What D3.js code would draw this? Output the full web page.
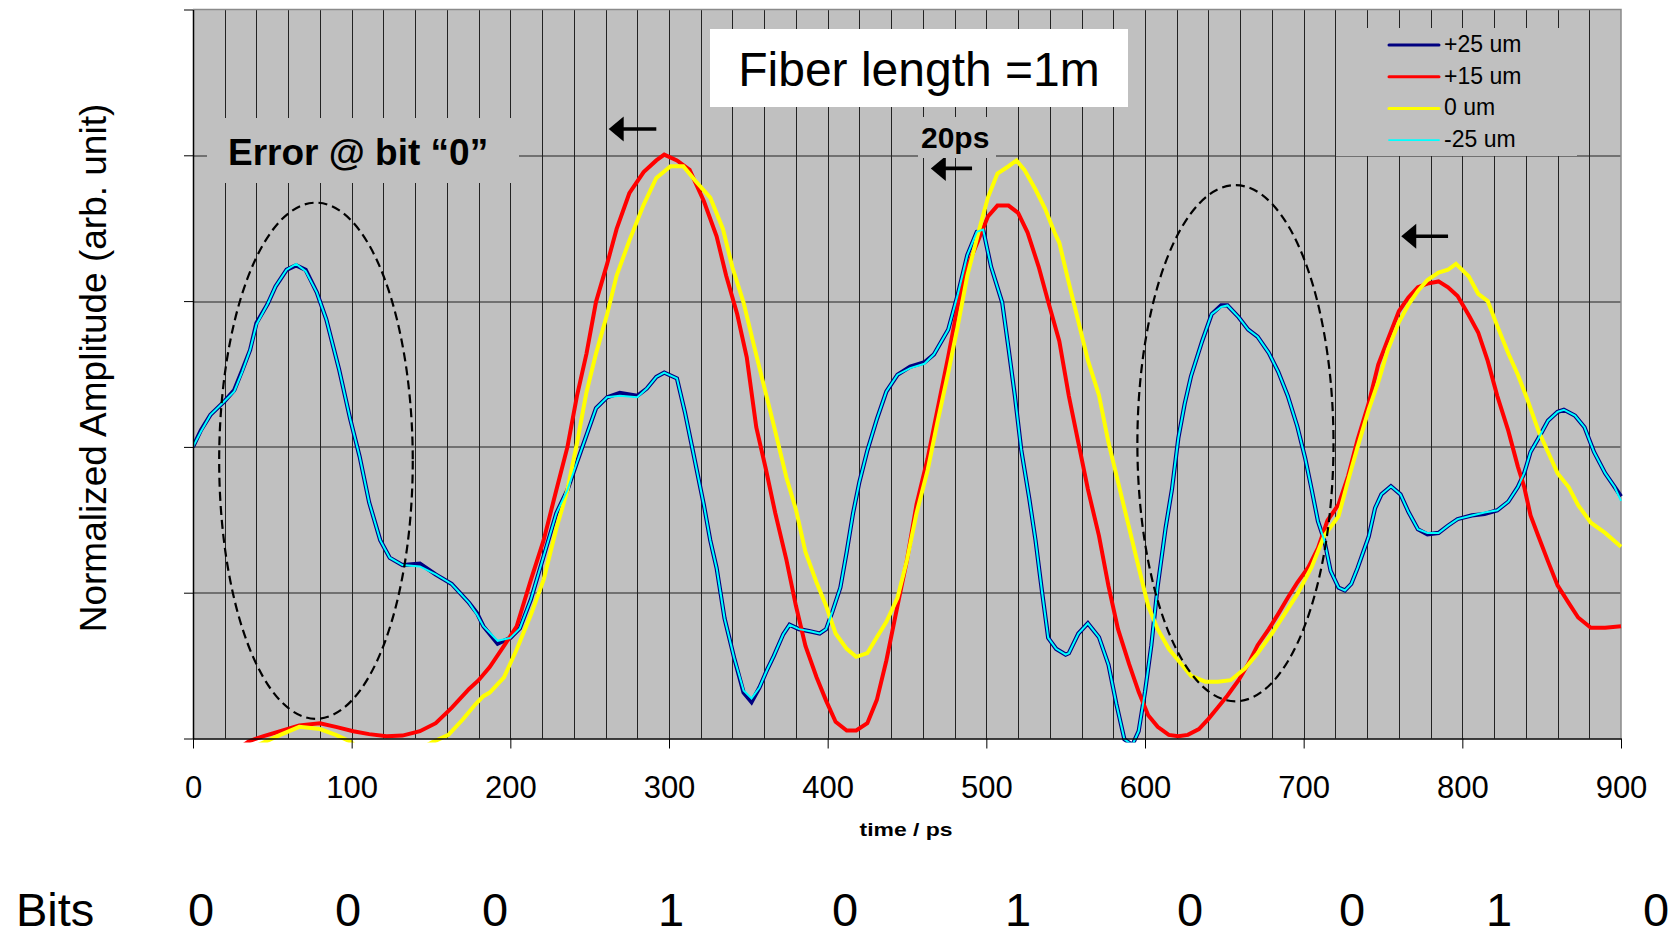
<!DOCTYPE html>
<html>
<head>
<meta charset="utf-8">
<script src="https://cdn.jsdelivr.net/npm/d3@7"></script>
<style>
  body { margin: 0; background: #fff; }
  svg { display: block; font-family: "Liberation Sans", Arial, sans-serif; }
</style>
</head>
<body>
<div id="chart"></div>
<script>
// values: [time (ps), normalized amplitude]
const plus25 = [[0,0.400],[5,0.423],[11,0.444],[20,0.463],[26,0.478],[31,0.505],[36,0.533],[40,0.570],[47,0.596],[52,0.620],[59,0.643],[65,0.649],[71,0.643],[78,0.612],[84,0.575],[92,0.507],[99,0.439],[105,0.387],[111,0.324],[118,0.272],[124,0.248],[132,0.238],[143,0.240],[153,0.225],[163,0.212],[174,0.186],[179,0.172],[183,0.154],[192,0.130],[200,0.138],[206,0.151],[213,0.191],[221,0.250],[229,0.309],[236,0.341],[242,0.379],[248,0.416],[254,0.453],[261,0.468],[269,0.474],[280,0.470],[286,0.480],[292,0.496],[297,0.502],[305,0.494],[310,0.448],[315,0.395],[322,0.320],[326,0.272],[330,0.234],[335,0.165],[341,0.111],[347,0.063],[352,0.050],[357,0.070],[362,0.095],[366,0.113],[372,0.143],[376,0.156],[382,0.150],[389,0.147],[395,0.144],[399,0.150],[403,0.174],[408,0.207],[412,0.256],[416,0.309],[420,0.352],[425,0.395],[431,0.438],[437,0.476],[444,0.499],[452,0.510],[461,0.516],[467,0.527],[476,0.561],[482,0.609],[488,0.663],[494,0.695],[498,0.698],[503,0.647],[510,0.598],[514,0.535],[518,0.470],[522,0.396],[527,0.330],[531,0.272],[535,0.203],[539,0.138],[544,0.123],[550,0.115],[552,0.117],[558,0.144],[564,0.158],[571,0.139],[577,0.101],[582,0.047],[587,-0.001],[592,-0.009],[596,0.010],[600,0.064],[604,0.128],[608,0.209],[613,0.289],[617,0.342],[621,0.412],[625,0.459],[629,0.497],[636,0.545],[642,0.582],[648,0.594],[652,0.594],[659,0.578],[665,0.561],[671,0.551],[678,0.529],[684,0.503],[690,0.470],[696,0.428],[701,0.384],[705,0.342],[709,0.298],[713,0.272],[717,0.230],[722,0.207],[726,0.203],[730,0.212],[734,0.234],[741,0.277],[745,0.316],[749,0.335],[755,0.346],[761,0.335],[766,0.311],[772,0.287],[778,0.280],[785,0.282],[791,0.292],[797,0.301],[806,0.306],[814,0.308],[822,0.313],[829,0.325],[835,0.345],[839,0.364],[843,0.393],[848,0.412],[854,0.436],[860,0.448],[864,0.451],[871,0.443],[877,0.427],[883,0.393],[890,0.364],[896,0.345],[900,0.332]];

const plus15 = [[30,-0.012],[35,-0.004],[44,0.003],[55,0.010],[67,0.018],[80,0.021],[90,0.016],[101,0.010],[111,0.006],[122,0.003],[132,0.004],[143,0.010],[153,0.021],[163,0.042],[174,0.068],[180,0.080],[187,0.098],[196,0.127],[204,0.154],[213,0.218],[221,0.272],[229,0.341],[236,0.400],[242,0.470],[248,0.528],[254,0.599],[261,0.651],[267,0.699],[275,0.748],[284,0.777],[292,0.793],[297,0.801],[305,0.793],[313,0.780],[322,0.737],[330,0.689],[336,0.635],[343,0.582],[349,0.523],[355,0.427],[361,0.370],[367,0.309],[374,0.245],[380,0.182],[386,0.127],[393,0.084],[399,0.052],[405,0.023],[412,0.011],[418,0.011],[425,0.021],[431,0.053],[437,0.107],[444,0.182],[450,0.245],[456,0.321],[463,0.384],[469,0.449],[476,0.524],[482,0.593],[488,0.647],[495,0.684],[501,0.716],[507,0.731],[514,0.731],[520,0.721],[526,0.694],[533,0.647],[539,0.599],[546,0.545],[552,0.470],[558,0.406],[564,0.342],[571,0.278],[577,0.209],[583,0.150],[590,0.102],[596,0.064],[602,0.032],[608,0.016],[615,0.005],[621,0.003],[627,0.005],[634,0.013],[640,0.027],[646,0.043],[652,0.059],[659,0.080],[665,0.102],[671,0.128],[678,0.150],[684,0.171],[690,0.193],[696,0.214],[703,0.235],[709,0.261],[715,0.299],[722,0.321],[728,0.360],[734,0.410],[741,0.460],[747,0.513],[753,0.547],[760,0.586],[766,0.605],[772,0.619],[778,0.624],[785,0.627],[791,0.619],[797,0.607],[804,0.581],[810,0.557],[816,0.518],[822,0.470],[829,0.422],[835,0.373],[839,0.345],[843,0.306],[848,0.277],[854,0.243],[860,0.210],[867,0.186],[873,0.166],[881,0.152],[890,0.152],[900,0.154]];

const zero = [[40,-0.010],[45,-0.005],[55,0.005],[67,0.016],[80,0.013],[90,0.005],[99,-0.004],[105,-0.015],[125,-0.025],[145,-0.012],[151,-0.005],[161,0.005],[170,0.026],[178,0.047],[183,0.058],[187,0.063],[196,0.084],[204,0.122],[213,0.170],[221,0.218],[229,0.288],[236,0.341],[242,0.405],[248,0.475],[254,0.528],[261,0.582],[267,0.635],[275,0.683],[284,0.732],[292,0.769],[301,0.785],[309,0.785],[317,0.764],[326,0.742],[334,0.699],[340,0.646],[347,0.598],[353,0.544],[359,0.491],[366,0.430],[374,0.358],[380,0.314],[386,0.256],[393,0.214],[399,0.182],[405,0.144],[412,0.123],[418,0.112],[425,0.117],[431,0.139],[437,0.160],[444,0.193],[450,0.245],[456,0.309],[463,0.368],[469,0.432],[476,0.502],[482,0.566],[488,0.635],[495,0.694],[501,0.742],[507,0.775],[514,0.785],[519,0.793],[524,0.780],[531,0.753],[537,0.727],[543,0.694],[546,0.680],[552,0.625],[558,0.572],[564,0.519],[571,0.471],[577,0.406],[583,0.352],[590,0.289],[596,0.235],[602,0.182],[608,0.150],[615,0.123],[621,0.107],[629,0.086],[638,0.078],[646,0.078],[654,0.080],[663,0.096],[671,0.117],[680,0.144],[688,0.171],[696,0.198],[705,0.235],[713,0.278],[722,0.305],[728,0.354],[734,0.400],[741,0.451],[747,0.489],[753,0.533],[760,0.571],[766,0.595],[772,0.614],[778,0.629],[785,0.639],[791,0.643],[796,0.651],[804,0.634],[810,0.610],[816,0.600],[822,0.566],[829,0.528],[835,0.499],[841,0.465],[848,0.422],[854,0.393],[860,0.364],[867,0.345],[873,0.320],[881,0.296],[890,0.282],[900,0.263]];

const minus25 = [[0,0.400],[5,0.421],[11,0.444],[20,0.463],[26,0.476],[31,0.503],[36,0.533],[40,0.568],[47,0.596],[52,0.620],[59,0.643],[65,0.651],[71,0.641],[78,0.612],[84,0.575],[92,0.507],[99,0.439],[105,0.387],[111,0.324],[118,0.272],[124,0.248],[132,0.238],[143,0.236],[153,0.225],[163,0.212],[174,0.186],[179,0.170],[183,0.154],[192,0.134],[200,0.138],[206,0.151],[213,0.191],[221,0.250],[229,0.309],[236,0.341],[242,0.379],[248,0.416],[254,0.453],[261,0.468],[269,0.470],[280,0.468],[286,0.480],[292,0.496],[297,0.502],[305,0.494],[310,0.448],[315,0.395],[322,0.320],[326,0.272],[330,0.234],[335,0.165],[341,0.111],[347,0.066],[352,0.055],[357,0.070],[362,0.095],[366,0.113],[372,0.143],[376,0.156],[382,0.150],[389,0.147],[395,0.144],[399,0.150],[403,0.174],[408,0.207],[412,0.256],[416,0.309],[420,0.352],[425,0.395],[431,0.438],[437,0.476],[444,0.499],[452,0.508],[461,0.514],[467,0.527],[476,0.561],[482,0.609],[488,0.663],[494,0.695],[498,0.698],[503,0.647],[510,0.598],[514,0.535],[518,0.470],[522,0.396],[527,0.330],[531,0.272],[535,0.203],[539,0.138],[544,0.123],[550,0.115],[552,0.117],[558,0.144],[564,0.158],[571,0.139],[577,0.101],[582,0.047],[587,-0.001],[592,-0.009],[596,0.010],[600,0.064],[604,0.128],[608,0.209],[613,0.289],[617,0.342],[621,0.412],[625,0.459],[629,0.497],[636,0.545],[642,0.582],[648,0.592],[652,0.594],[659,0.578],[665,0.561],[671,0.551],[678,0.529],[684,0.503],[690,0.470],[696,0.428],[701,0.384],[705,0.342],[709,0.298],[713,0.272],[717,0.230],[722,0.207],[726,0.203],[730,0.212],[734,0.234],[741,0.277],[745,0.316],[749,0.335],[755,0.346],[761,0.335],[766,0.311],[772,0.287],[778,0.282],[785,0.282],[791,0.292],[797,0.301],[806,0.306],[814,0.310],[822,0.313],[829,0.325],[835,0.345],[839,0.364],[843,0.393],[848,0.412],[854,0.436],[860,0.448],[864,0.451],[871,0.443],[877,0.427],[883,0.393],[890,0.364],[896,0.345],[900,0.326]];

const seriesNames = ["+25 um", "+15 um", "0 um", "-25 um"];
const seriesColors = ["#000080", "#ff0000", "#ffff00", "#00ffff"];
const timeTicks = [0, 100, 200, 300, 400, 500, 600, 700, 800, 900];
const bits = ["0", "0", "0", "1", "0", "1", "0", "0", "1", "0"];

// chart frame
const margin = { top: 9.5, right: 57, bottom: 199.5, left: 193 };
const W = 1678, H = 938;
const width = W - margin.left - margin.right;
const height = H - margin.top - margin.bottom;

const svg = d3.select('#chart').append('svg')
  .attr('width', W)
  .attr('height', H);

const g = svg.append('g')
  .attr('transform', `translate(${margin.left},${margin.top})`);

const x = d3.scaleLinear().domain([0, 900]).range([0, width]);
const y = d3.scaleLinear().domain([0, 1]).range([height, 0]);
const crisp = v => Math.round(v) + 0.5;

// plot background
g.append('rect')
  .attr('width', width)
  .attr('height', height)
  .attr('fill', '#c0c0c0');

// grid: every 20 ps and every 0.2
g.append('g').selectAll('line')
  .data(d3.range(20, 900, 20))
  .enter().append('line')
  .attr('x1', d => crisp(x(d))).attr('x2', d => crisp(x(d)))
  .attr('y1', 0).attr('y2', height)
  .attr('stroke', '#222').attr('stroke-width', 1);

g.append('g').selectAll('line')
  .data([0.2, 0.4, 0.6, 0.8])
  .enter().append('line')
  .attr('x1', 0).attr('x2', width)
  .attr('y1', d => crisp(y(d))).attr('y2', d => crisp(y(d)))
  .attr('stroke', '#222').attr('stroke-width', 1);

// top / right border
g.append('path')
  .attr('d', `M0,0H${width}V${height}`)
  .attr('fill', 'none')
  .attr('stroke', '#8a8a8a')
  .attr('stroke-width', 1.5);

// boxes sitting on the grid (cover the grid lines)
svg.append('rect').attr('x', 207).attr('y', 118).attr('width', 312).attr('height', 65).attr('fill', '#c0c0c0');
svg.append('rect').attr('x', 918).attr('y', 117).attr('width', 78).attr('height', 41).attr('fill', '#c0c0c0');
svg.append('rect').attr('x', 1336).attr('y', 28).attr('width', 241).attr('height', 128).attr('fill', '#c0c0c0');
svg.append('rect').attr('x', 710).attr('y', 29).attr('width', 418).attr('height', 78).attr('fill', '#ffffff');

// traces
svg.append('defs').append('clipPath').attr('id', 'plotClip')
  .append('rect').attr('x', 0).attr('y', -2).attr('width', width + 2).attr('height', height + 6);

const line = d3.line().x(d => x(d[0])).y(d => y(d[1]));
const traces = [
  { data: plus25, color: seriesColors[0], w: 4.2 },
  { data: plus15, color: seriesColors[1], w: 4 },
  { data: zero, color: seriesColors[2], w: 4 },
  { data: minus25, color: seriesColors[3], w: 2 }
];
const traceG = g.append('g').attr('clip-path', 'url(#plotClip)');
traces.forEach(t => {
  traceG.append('path')
    .datum(t.data)
    .attr('d', line)
    .attr('fill', 'none')
    .attr('stroke', t.color)
    .attr('stroke-width', t.w)
    .attr('stroke-linejoin', 'miter');
});

// dashed ellipses around the error bits
const rings = [
  { t: 77.5, a: 0.381, rt: 61, ra: 0.354 },
  { t: 657, a: 0.405, rt: 61.8, ra: 0.354 }
];
g.selectAll('.ring')
  .data(rings)
  .enter().append('ellipse')
  .attr('cx', d => x(d.t))
  .attr('cy', d => y(d.a))
  .attr('rx', d => x(d.rt) - x(0))
  .attr('ry', d => y(0) - y(d.ra))
  .attr('fill', 'none')
  .attr('stroke', '#000')
  .attr('stroke-width', 2.2)
  .attr('stroke-dasharray', '9,5');

// axes
const xAxis = g.append('g')
  .attr('transform', `translate(0,${height})`)
  .call(d3.axisBottom(x).tickValues(timeTicks).tickSize(10).tickPadding(27).tickSizeOuter(0));
xAxis.select('.domain').attr('stroke', '#000').attr('stroke-width', 1.5);
xAxis.selectAll('.tick line').attr('stroke', '#000');
xAxis.selectAll('.tick text')
  .attr('fill', '#000')
  .style('font-size', '31px')
  .style('font-family', '"Liberation Sans", Arial, sans-serif');

const yAxis = g.append('g')
  .call(d3.axisLeft(y).tickValues([0, 0.2, 0.4, 0.6, 0.8, 1]).tickFormat('').tickSize(9).tickSizeOuter(0));
yAxis.select('.domain').attr('stroke', '#000').attr('stroke-width', 1.5);
yAxis.selectAll('.tick line').attr('stroke', '#000');

// arrows (20 ps shift)
const arrows = [
  { t0: 292, t1: 262, a: 0.836 },
  { t0: 491, t1: 465, a: 0.782 },
  { t0: 791, t1: 761.5, a: 0.689 }
];
arrows.forEach(d => {
  const x0 = x(d.t0), x1 = x(d.t1), yy = y(d.a);
  g.append('line')
    .attr('x1', x0).attr('x2', x1 + 10)
    .attr('y1', yy).attr('y2', yy)
    .attr('stroke', '#000').attr('stroke-width', 3.6);
  g.append('path')
    .attr('d', `M${x1},${yy}L${x1 + 15},${yy - 12.5}L${x1 + 15},${yy + 12.5}Z`)
    .attr('fill', '#000');
});

// legend
const legend = svg.append('g');
seriesNames.forEach((name, i) => {
  const ly = 45 + i * 31.7;
  legend.append('line')
    .attr('x1', 1389).attr('x2', 1439)
    .attr('y1', ly).attr('y2', ly)
    .attr('stroke', seriesColors[i])
    .attr('stroke-width', i === 3 ? 1.8 : 3)
    .attr('stroke-linecap', 'round');
  legend.append('text')
    .attr('x', 1444).attr('y', ly + 7)
    .attr('font-size', 23)
    .attr('fill', '#000')
    .text(name);
});

// labels
svg.append('text')
  .attr('x', 919).attr('y', 86)
  .attr('text-anchor', 'middle')
  .attr('font-size', 48)
  .text('Fiber length =1m');

svg.append('text')
  .attr('x', 228).attr('y', 165)
  .attr('font-size', 37)
  .attr('font-weight', 'bold')
  .text('Error @ bit \u201C0\u201D');

svg.append('text')
  .attr('x', 921).attr('y', 148)
  .attr('font-size', 30)
  .attr('font-weight', 'bold')
  .text('20ps');

svg.append('text')
  .attr('transform', 'translate(106,368) rotate(-90)')
  .attr('text-anchor', 'middle')
  .attr('font-size', 37)
  .text('Normalized Amplitude (arb. unit)');

svg.append('text')
  .attr('x', 906).attr('y', 836)
  .attr('text-anchor', 'middle')
  .attr('font-size', 19)
  .attr('font-weight', 'bold')
  .attr('textLength', 93)
  .attr('lengthAdjust', 'spacingAndGlyphs')
  .text('time / ps');

// bit pattern row
const bitX = [201, 348, 495, 671, 845, 1018, 1190, 1352, 1499, 1656];
svg.append('text')
  .attr('x', 16).attr('y', 926)
  .attr('font-size', 47)
  .text('Bits');
svg.selectAll('.bit')
  .data(bits)
  .enter().append('text')
  .attr('class', 'bit')
  .attr('x', (d, i) => bitX[i])
  .attr('y', 926)
  .attr('text-anchor', 'middle')
  .attr('font-size', 47)
  .text(d => d);
</script>
</body>
</html>
